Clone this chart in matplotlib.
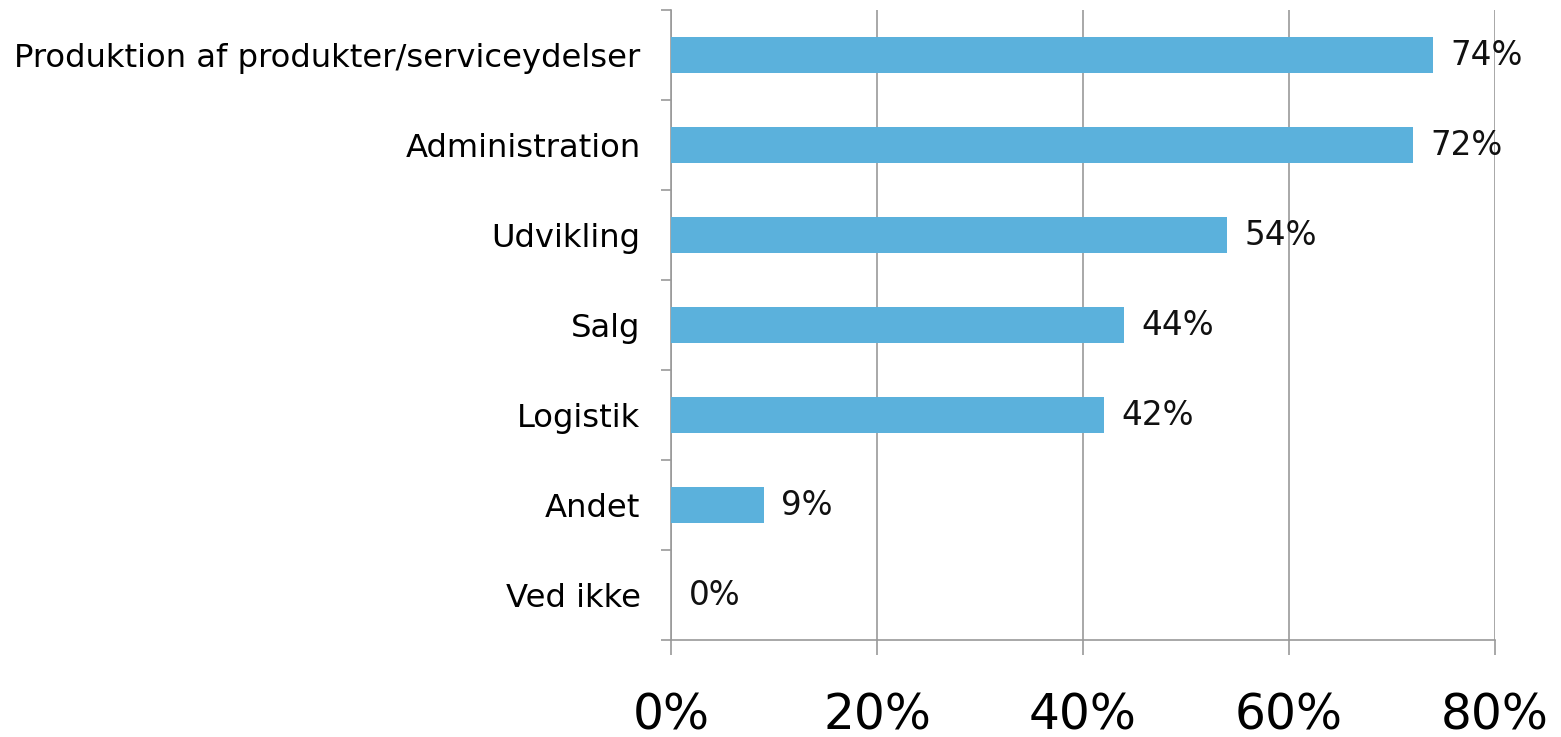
import matplotlib.pyplot as plt
from matplotlib.ticker import FixedLocator

plt.rcParams['font.family'] = ['DejaVu Sans']

categories = ['Produktion af produkter/serviceydelser', 'Administration', 'Udvikling',
              'Salg', 'Logistik', 'Andet', 'Ved ikke']
values = [74, 72, 54, 44, 42, 9, 0]
xticks = [0, 20, 40, 60, 80]

fig = plt.figure(figsize=(15.61, 7.37), dpi=100)
ax = fig.add_axes([0.4299, 0.1316, 0.5278, 0.8548])

pos = list(range(len(categories)))[::-1]
ax.barh(pos, values, height=0.4, color='#5BB1DC', zorder=3)

for y, v in zip(pos, values):
    ax.text(v + 1.7, y, f'{v}%', va='center', ha='left', fontsize=23.5, color='#111111', zorder=4)

ax.set_xlim(0, 80)
ax.set_ylim(-0.5, len(categories) - 0.5)
ax.set_xticks(xticks)
ax.set_xticklabels([f'{t}%' for t in xticks], fontsize=35)
ax.set_yticks(pos)
ax.set_yticklabels(categories, fontsize=23.2)
ax.yaxis.set_minor_locator(FixedLocator([p - 0.5 for p in range(len(categories) + 1)]))

ax.tick_params(axis='y', which='major', length=0, pad=22)
ax.tick_params(axis='y', which='minor', length=7, color='#999999', width=1.2)
ax.tick_params(axis='x', length=11, color='#999999', width=1.2, pad=26)

ax.grid(axis='x', color='#999999', linewidth=1.2, zorder=0)
for s in ['top', 'right']:
    ax.spines[s].set_visible(False)
for s in ['left', 'bottom']:
    ax.spines[s].set_color('#999999')
    ax.spines[s].set_linewidth(1.2)

fig.savefig('out.png', dpi=100)
